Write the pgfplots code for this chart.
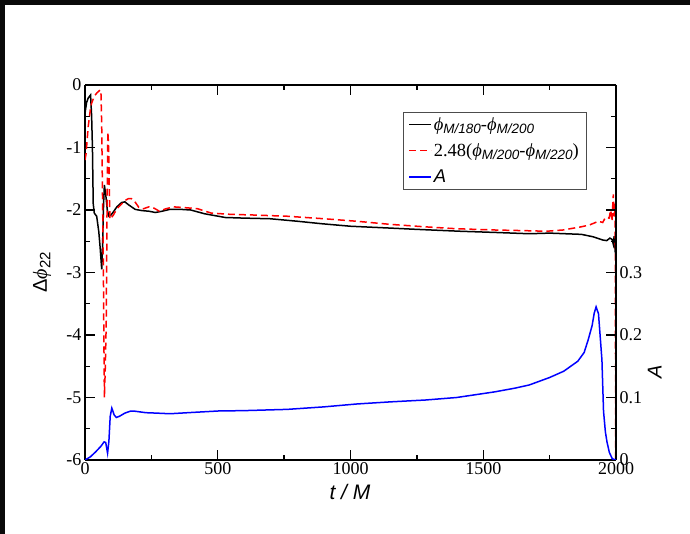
\documentclass[border=0pt]{standalone}
\usepackage{pgfplots}
\pgfplotsset{compat=1.18}
\usepackage{fontspec}
\setmainfont{Liberation Serif}
\newfontfamily\sans{Liberation Sans}
\newcommand{\tl}{\fontsize{18}{18}\selectfont}
\newcommand{\sub}[1]{\raisebox{-0.4ex}{\fontsize{13.5}{13.5}\selectfont\sans\itshape #1}}
\pgfplotsset{
  mylegend/.style={legend image code/.code={\draw[line width=1.5pt,##1] (0pt,0pt) -- (22pt,0pt);}},
}
\begin{document}
\begin{tikzpicture}[x=1pt,y=1pt]
\fill[black!96] (0,529) rectangle (690,534);
\fill[black!96] (0,0) rectangle (5,534);
\begin{axis}[
  at={(85pt,74pt)}, anchor=south west,
  width=531pt, height=375pt, scale only axis,
  xmin=0, xmax=2000, ymin=-6, ymax=0,
  axis y line*=left,
  xtick={0,500,1000,1500,2000},
  xticklabels={0,500,1000,1500,2000},
  ytick={-6,-5,-4,-3,-2,-1,0},
  yticklabels={-6,-5,-4,-3,-2,-1,0},
  minor x tick num=1, minor y tick num=1,
  major tick length=10pt, minor tick length=5pt,
  tick align=inside,
  axis line style={line width=1.3pt},
  every tick/.style={line width=1.3pt, black},
  tick label style={font=\tl},
  xticklabel style={yshift=1pt},
  every axis y label/.style={at={(axis description cs:-0.081,0.5)}, rotate=90, anchor=center},
  every axis x label/.style={at={(axis description cs:0.499,-0.085)}, anchor=center},
  ylabel={\fontsize{20}{20}\selectfont{\sans Δ}\textit{ϕ}\raisebox{-0.4ex}{\fontsize{15}{15}\selectfont\sans 22}},
  xlabel={\fontsize{21}{21}\selectfont\sans\itshape t / M},
  mylegend,
  legend style={at={(0.599,0.928)}, anchor=north west, draw=black!70,
    font=\fontsize{18.5}{18.5}\selectfont, inner xsep=5pt, inner ysep=3pt, row sep=8pt, cells={anchor=west}},
]
\addplot[black, line width=1.5pt] coordinates {
(0,-0.45) (6,-0.28) (12,-0.21) (21,-0.16) (25,-0.5) (28,-1.0) (31,-1.9) (35,-2.05)
(44,-2.1) (52,-2.35) (57,-2.6) (63,-2.95) (66,-2.6) (70,-1.9) (73,-1.6) (78,-1.75)
(84,-2.0) (90,-2.1) (98,-2.08) (107,-2.03) (120,-1.95) (138,-1.88) (150,-1.87)
(165,-1.92) (189,-1.99) (215,-2.01) (241,-2.02) (265,-2.04) (290,-2.02) (320,-1.99)
(360,-1.99) (398,-2.0) (450,-2.06) (528,-2.12) (600,-2.13) (697,-2.14) (800,-2.18)
(892,-2.22) (1000,-2.26) (1152,-2.29) (1250,-2.31) (1412,-2.34) (1550,-2.36)
(1673,-2.38) (1750,-2.37) (1870,-2.39) (1915,-2.43) (1950,-2.48) (1965,-2.49)
(1977,-2.45) (1985,-2.47) (1990,-2.55) (1993,-2.42) (1996,-2.6) (2000,-2.5)
};
\addlegendentry{\textit{ϕ}\sub{M/180}-\textit{ϕ}\sub{M/200}}
\addplot[red, line width=1.5pt, dash pattern=on 7pt off 4pt] coordinates {
(0,-1.2) (4,-1.1) (12,-0.67) (20,-0.4) (25,-0.29) (35,-0.18) (44,-0.13) (57,-0.08)
(60,-0.1) (63,-0.67) (66,-1.8) (69,-2.8) (71,-4.0) (73,-5.0) (76,-4.6) (80,-3.8)
(83,-2.0) (86,-0.75) (88,-0.9) (90,-1.2) (92,-1.8) (94,-2.15) (100,-2.12) (107,-2.08)
(120,-1.98) (132,-1.93) (150,-1.85) (163,-1.82) (175,-1.82) (190,-1.88) (203,-1.96)
(220,-1.98) (241,-1.95) (260,-1.97) (280,-2.02) (305,-1.98) (333,-1.95) (370,-1.96)
(424,-1.98) (476,-2.05) (550,-2.07) (632,-2.08) (762,-2.1) (900,-2.14) (1023,-2.18)
(1150,-2.23) (1283,-2.27) (1400,-2.30) (1543,-2.32) (1650,-2.33) (1738,-2.34)
(1800,-2.32) (1868,-2.27) (1900,-2.24) (1934,-2.18) (1950,-2.2) (1960,-2.12)
(1974,-2.13) (1980,-2.0) (1985,-2.18) (1988,-1.9) (1990,-1.75) (1992,-2.1)
(1995,-1.9) (1997,-2.3) (1999,-6.0)
};
\addlegendentry{2.48(\textit{ϕ}\sub{M/200}-\textit{ϕ}\sub{M/220})}
\addlegendimage{blue, line width=1.5pt}
\addlegendentry{\sans\itshape A}
\end{axis}
\begin{axis}[
  at={(85pt,74pt)}, anchor=south west,
  width=531pt, height=375pt, scale only axis,
  xmin=0, xmax=2000, ymin=0, ymax=0.6,
  axis y line*=right, axis x line=none,
  ytick={0,0.1,0.2,0.3,0.4,0.5,0.6},
  yticklabels={0,0.1,0.2,0.3,{},{},{}},
  minor y tick num=1,
  major tick length=10pt, minor tick length=5pt,
  tick align=inside,
  axis line style={line width=1.3pt},
  every tick/.style={line width=1.3pt, black},
  tick label style={font=\tl},
  every axis y label/.style={at={(axis description cs:1.073,0.235)}, rotate=90, anchor=center},
  ylabel={\fontsize{20}{20}\selectfont\sans\itshape A},
]
\addplot[blue, line width=1.5pt] coordinates {
(0,0.0) (20,0.005) (40,0.013) (60,0.022) (72,0.029) (78,0.028) (85,0.011) (90,0.03)
(95,0.07) (101,0.083) (110,0.072) (118,0.068) (130,0.07) (150,0.075) (170,0.078)
(189,0.078) (229,0.0757) (270,0.075) (320,0.074) (400,0.076) (502,0.0784) (600,0.079)
(762,0.081) (900,0.085) (1023,0.0896) (1150,0.093) (1283,0.096) (1400,0.1)
(1543,0.109) (1620,0.115) (1673,0.12) (1750,0.132) (1803,0.142) (1856,0.158)
(1880,0.172) (1895,0.192) (1910,0.215) (1918,0.235) (1925,0.245) (1934,0.234)
(1940,0.2) (1947,0.16) (1953,0.078) (1960,0.045) (1966,0.029) (1975,0.012)
(1986,0.002) (2000,0.0)
};
\end{axis}
\pgfresetboundingbox
\path (0,0) rectangle (690,534);
\end{tikzpicture}
\end{document}
